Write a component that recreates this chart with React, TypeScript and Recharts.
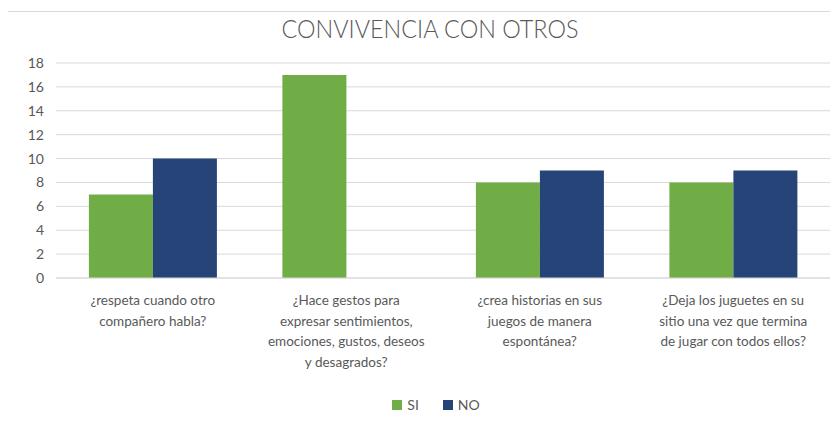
import React from 'react';
import { BarChart, Bar, XAxis, YAxis, CartesianGrid, Legend } from 'recharts';

const categories = [
  '¿respeta cuando otro compañero habla?',
  '¿Hace gestos para expresar sentimientos, emociones, gustos, deseos y desagrados?',
  '¿crea historias en sus juegos de manera espontánea?',
  '¿Deja los juguetes en su sitio una vez que termina de jugar con todos ellos?',
];

// how the labels wrap in the original
const labelLines = [
  ['¿respeta cuando otro', 'compañero habla?'],
  ['¿Hace gestos para', 'expresar sentimientos,', 'emociones, gustos, deseos', 'y desagrados?'],
  ['¿crea historias en sus', 'juegos de manera', 'espontánea?'],
  ['¿Deja los juguetes en su', 'sitio una vez que termina', 'de jugar con todos ellos?'],
];

const si = [7, 17, 8, 8];
const no = [10, 0, 9, 9];
const yTicks = [0, 2, 4, 6, 8, 10, 12, 14, 16, 18];
const seriesNames = ['SI', 'NO'];
const seriesColors = ['#70ad47', '#264478'];

const data = categories.map((c, i) => ({ name: c, SI: si[i], NO: no[i] }));

const FONT = 'Lato, "Open Sans", sans-serif';
const GRAY = '#595959';

const CategoryTick = (props: any) => {
  const { x, y, payload } = props;
  const lines = labelLines[payload.index] || [payload.value];
  return (
    <text x={x} y={y} textAnchor="middle" fill={GRAY} fontSize={13.5} fontFamily={FONT}>
      {lines.map((l: string, i: number) => (
        <tspan key={i} x={x} dy={i === 0 ? 19 : 20.5}>
          {l}
        </tspan>
      ))}
    </text>
  );
};

const LegendContent = () => (
  <div style={{ display: 'flex', justifyContent: 'center', gap: 24, fontFamily: FONT, fontSize: 14, color: GRAY, paddingLeft: 42, paddingTop: 5 }}>
    {seriesNames.map((n, i) => (
      <span key={n} style={{ display: 'flex', alignItems: 'center', gap: 5 }}>
        <span style={{ width: 10, height: 10, background: seriesColors[i], display: 'inline-block' }} />
        {n}
      </span>
    ))}
  </div>
);

export default function App() {
  return (
    <div style={{ position: 'relative', margin: -8, width: 838, height: 426, background: '#fff', overflow: 'hidden' }}>
      <div
        style={{
          position: 'absolute',
          left: 6,
          top: 11,
          width: 840,
          height: 430,
          border: '1px solid #d9d9d9',
          boxSizing: 'border-box',
        }}
      />
      <div
        style={{
          position: 'absolute',
          top: 12,
          left: 0,
          width: 860,
          textAlign: 'center',
          fontFamily: FONT,
          fontSize: 26,
          color: GRAY,
          fontWeight: 300,
          transform: 'scaleX(0.9)',
          transformOrigin: '430px 0',
        }}
      >
        CONVIVENCIA CON OTROS
      </div>
      <div style={{ position: 'absolute', left: 0, top: 0 }}>
        <BarChart
          width={838}
          height={426}
          data={data}
          margin={{ top: 63, right: 8, left: 0, bottom: 4 }}
          barCategoryGap="17%"
          barGap={0}
        >
          <CartesianGrid horizontal vertical={false} stroke="#d9d9d9" />
          <XAxis
            dataKey="name"
            interval={0}
            height={113}
            axisLine={{ stroke: '#d9d9d9' }}
            tickLine={false}
            tick={<CategoryTick />}
          />
          <YAxis
            width={56}
            domain={[0, 18]}
            ticks={yTicks}
            axisLine={false}
            tickLine={false}
            tickMargin={6}
            tick={{ fill: GRAY, fontSize: 14, fontFamily: FONT }}
          />
          <Legend verticalAlign="bottom" height={31} content={<LegendContent />} />
          {seriesNames.map((n, i) => (
            <Bar key={n} dataKey={n} fill={seriesColors[i]} isAnimationActive={false} />
          ))}
        </BarChart>
      </div>
    </div>
  );
}
